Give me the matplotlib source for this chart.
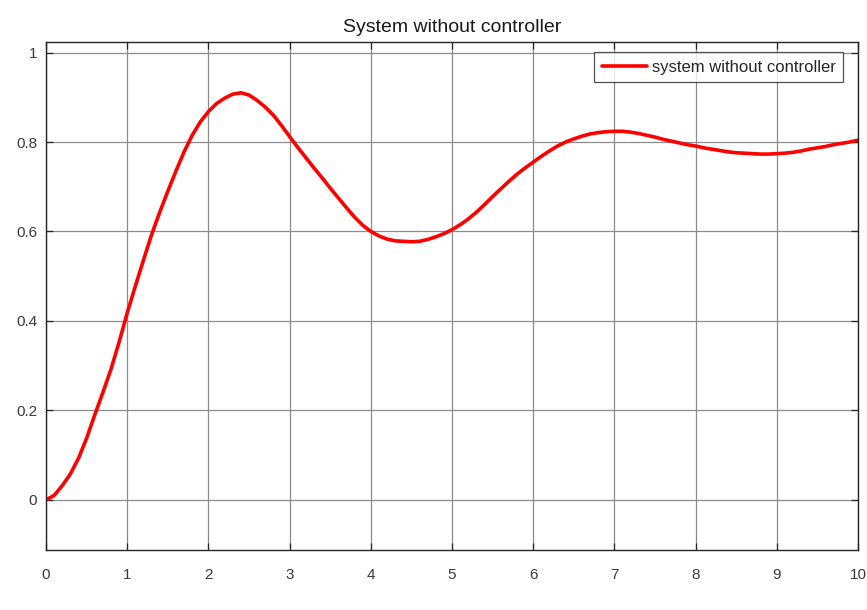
import matplotlib
matplotlib.use("Agg")
import matplotlib.pyplot as plt

# Step response of the uncontrolled system, sampled every 0.1 s
time_s = [round(0.1 * k, 1) for k in range(101)]
response = [
    0.000, 0.010, 0.032, 0.058, 0.093, 0.138, 0.190, 0.240, 0.292, 0.353,
    0.418, 0.478, 0.536, 0.593, 0.643, 0.690, 0.735, 0.778, 0.815, 0.845,
    0.868, 0.886, 0.898, 0.907, 0.910, 0.905, 0.893, 0.878, 0.860, 0.837,
    0.812, 0.788, 0.765, 0.742, 0.720, 0.697, 0.675, 0.653, 0.632, 0.614,
    0.600, 0.590, 0.583, 0.579, 0.578, 0.577, 0.578, 0.582, 0.588, 0.595,
    0.604, 0.615, 0.628, 0.643, 0.660, 0.678, 0.695, 0.712, 0.728, 0.742,
    0.755, 0.768, 0.780, 0.791, 0.800, 0.807, 0.813, 0.818, 0.821, 0.823,
    0.824, 0.824, 0.822, 0.819, 0.815, 0.811, 0.806, 0.802, 0.798, 0.794,
    0.791, 0.787, 0.784, 0.781, 0.778, 0.776, 0.775, 0.774, 0.773, 0.773,
    0.774, 0.775, 0.777, 0.780, 0.784, 0.787, 0.790, 0.794, 0.797, 0.800,
    0.804,
]

x_ticks = [0, 1, 2, 3, 4, 5, 6, 7, 8, 9, 10]
y_ticks = [0, 0.2, 0.4, 0.6, 0.8, 1]
y_tick_labels = ["0", "0.2", "0.4", "0.6", "0.8", "1"]

plt.rcParams["font.family"] = ["Liberation Sans", "DejaVu Sans"]

fig = plt.figure(figsize=(8.67, 6.10), dpi=100)
ax = fig.add_axes([0.0531, 0.0984, 0.9365, 0.8327])

ax.plot(time_s, response, color="#ff0000", linewidth=2.6,
        label="system without controller", solid_capstyle="round",
        solid_joinstyle="round")

ax.set_xlim(0, 10)
ax.set_ylim(-0.112, 1.0235)
ax.set_xticks(x_ticks)
ax.set_yticks(y_ticks)
ax.set_yticklabels(y_tick_labels)

ax.grid(True, color="#8c8c8c", linewidth=0.9)
ax.set_axisbelow(True)
ax.tick_params(direction="in", length=5, width=0.9, top=True, right=True,
               labelsize=11, labelcolor="#3a3a3a", color="#262626")
ax.tick_params(axis="x", pad=13)
ax.tick_params(axis="y", pad=6.5)
for s in ax.spines.values():
    s.set_color("#262626")
    s.set_linewidth(1.0)

ax.set_title("System without controller", fontsize=14, color="#1a1a1a", pad=7)

leg = ax.legend(loc="upper right", bbox_to_anchor=(0.9815, 0.980),
                fontsize=12, frameon=True, fancybox=False,
                edgecolor="#262626", handlelength=2.7, handletextpad=0.3,
                borderpad=0.45, borderaxespad=0.0)
leg.get_frame().set_linewidth(0.9)
for t in leg.get_texts():
    t.set_color("#262626")

fig.savefig("out.png", dpi=100)
